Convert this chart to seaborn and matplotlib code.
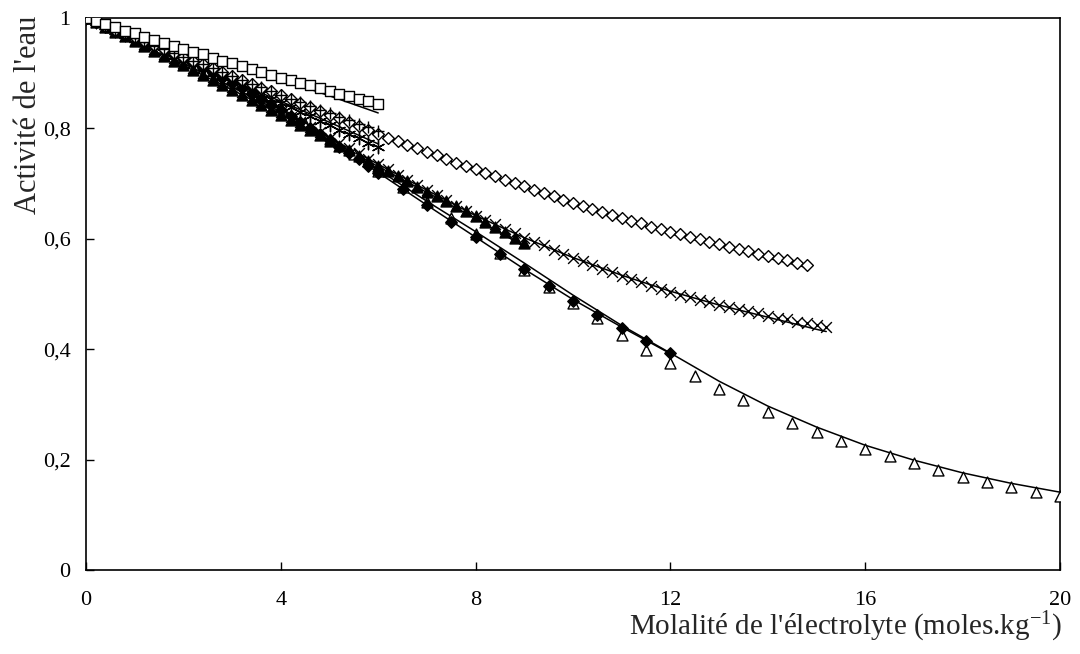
import numpy as np
import pandas as pd
import matplotlib
matplotlib.use("Agg")
import matplotlib.pyplot as plt
import seaborn as sns

# ---------------- data (molality in mol/kg, water activity) ----------------
m_fine6 = np.round(np.arange(0, 6.01, 0.2), 1)

sq_a = [1.000, 0.994, 0.989, 0.983, 0.977, 0.972, 0.966, 0.961, 0.955, 0.950,
        0.944, 0.939, 0.934, 0.928, 0.923, 0.918, 0.913, 0.908, 0.903, 0.897,
        0.892, 0.887, 0.882, 0.878, 0.873, 0.868, 0.863, 0.858, 0.853, 0.849, 0.844]
sq_fit_m = [0, 1, 2, 3, 4, 5, 6]
sq_fit_a = [1.000, 0.972, 0.945, 0.917, 0.889, 0.859, 0.828]

plus_a = [1.000, 0.993, 0.986, 0.979, 0.972, 0.964, 0.957, 0.950, 0.943, 0.936,
          0.930, 0.923, 0.916, 0.909, 0.902, 0.895, 0.888, 0.881, 0.875, 0.868,
          0.861, 0.854, 0.848, 0.841, 0.834, 0.828, 0.821, 0.815, 0.808, 0.802, 0.795]
plus_fit_m = [0, 1, 2, 3, 4, 5, 6]
plus_fit_a = [1.000, 0.963, 0.927, 0.892, 0.856, 0.821, 0.787]

star_a = [1.000, 0.993, 0.985, 0.977, 0.970, 0.962, 0.955, 0.947, 0.939, 0.932,
          0.924, 0.916, 0.908, 0.901, 0.893, 0.885, 0.877, 0.869, 0.862, 0.854,
          0.846, 0.838, 0.830, 0.822, 0.814, 0.806, 0.798, 0.790, 0.782, 0.774, 0.766]
star_fit_m = [0, 1, 2, 3, 4, 5, 6]
star_fit_a = [1.000, 0.963, 0.925, 0.887, 0.849, 0.811, 0.772]

m_dia = np.round(np.arange(0, 14.81, 0.2), 1)
dia_a = [1.000, 0.993, 0.986, 0.979, 0.972, 0.965, 0.958, 0.951, 0.944, 0.937,
         0.930, 0.923, 0.916, 0.909, 0.902, 0.895, 0.888, 0.881, 0.874, 0.867,
         0.860, 0.853, 0.846, 0.839, 0.832, 0.825, 0.818, 0.811, 0.804, 0.797,
         0.790, 0.783, 0.777, 0.770, 0.764, 0.757, 0.751, 0.745, 0.738, 0.732,
         0.726, 0.720, 0.714, 0.707, 0.701, 0.695, 0.689, 0.683, 0.677, 0.671,
         0.665, 0.660, 0.654, 0.649, 0.643, 0.638, 0.633, 0.628, 0.622, 0.617,
         0.612, 0.608, 0.603, 0.599, 0.594, 0.590, 0.586, 0.582, 0.577, 0.573,
         0.569, 0.565, 0.561, 0.557, 0.553]
dia_fit_m = [0, 2, 4, 6, 8, 10, 12, 14, 14.8]
dia_fit_a = [1.000, 0.930, 0.860, 0.789, 0.724, 0.663, 0.609, 0.565, 0.548]

m_x = np.round(np.arange(0, 15.21, 0.2), 1)
x_a = [1.000, 0.992, 0.984, 0.976, 0.968, 0.960, 0.952, 0.944, 0.935, 0.927,
       0.918, 0.910, 0.901, 0.893, 0.884, 0.875, 0.866, 0.857, 0.848, 0.839,
       0.830, 0.821, 0.812, 0.802, 0.793, 0.783, 0.774, 0.764, 0.755, 0.745,
       0.735, 0.726, 0.716, 0.707, 0.697, 0.688, 0.679, 0.670, 0.660, 0.651,
       0.642, 0.634, 0.626, 0.618, 0.610, 0.602, 0.595, 0.588, 0.580, 0.573,
       0.566, 0.559, 0.553, 0.546, 0.540, 0.533, 0.527, 0.521, 0.515, 0.509,
       0.503, 0.498, 0.494, 0.489, 0.485, 0.480, 0.476, 0.472, 0.469, 0.465,
       0.461, 0.457, 0.454, 0.450, 0.447, 0.443, 0.440]
x_fit_m = [0, 1, 2, 3, 4, 5, 6, 7, 8, 9, 10, 11, 12, 13, 14, 15, 15.2]
x_fit_a = [1.000, 0.960, 0.918, 0.875, 0.830, 0.783, 0.735, 0.688, 0.642,
           0.602, 0.566, 0.534, 0.505, 0.480, 0.458, 0.436, 0.432]

m_ftri = np.round(np.arange(0, 9.01, 0.2), 1)
ftri_a = [1.000, 0.992, 0.984, 0.975, 0.967, 0.958, 0.950, 0.941, 0.932, 0.923,
          0.914, 0.906, 0.897, 0.888, 0.879, 0.870, 0.861, 0.852, 0.843, 0.834,
          0.825, 0.816, 0.806, 0.797, 0.788, 0.778, 0.769, 0.760, 0.750, 0.741,
          0.732, 0.722, 0.713, 0.704, 0.694, 0.685, 0.677, 0.668, 0.659, 0.650,
          0.641, 0.631, 0.622, 0.612, 0.602, 0.592]
ftri_fit_m = [0, 1, 2, 3, 4, 5, 6, 7, 8, 9]
ftri_fit_a = [1.000, 0.958, 0.914, 0.870, 0.825, 0.778, 0.731, 0.684, 0.637, 0.586]

m_fdia = list(np.round(np.arange(0, 6.01, 0.2), 1)) + [6.5, 7.0, 7.5, 8.0, 8.5, 9.0,
                                                          9.5, 10.0, 10.5, 11.0, 11.5, 12.0]
fdia_a = [1.000, 0.994, 0.987, 0.980, 0.973, 0.966, 0.958, 0.951, 0.943, 0.935,
          0.927, 0.918, 0.910, 0.901, 0.892, 0.882, 0.873, 0.863, 0.853, 0.843,
          0.833, 0.823, 0.812, 0.801, 0.790, 0.779, 0.767, 0.755, 0.744, 0.731,
          0.719, 0.690, 0.661, 0.631, 0.603, 0.573, 0.545, 0.515, 0.487, 0.462,
          0.438, 0.415, 0.393]
fdia_fit_m = [0, 1, 2, 3, 4, 5, 6, 7, 8, 9, 10, 11, 12]
fdia_fit_a = [1.000, 0.966, 0.927, 0.883, 0.834, 0.779, 0.720, 0.661, 0.603,
              0.545, 0.490, 0.440, 0.392]

m_otri = [0, 0.5, 1, 1.5, 2, 2.5, 3, 3.5, 4, 4.5, 5, 5.5, 6, 6.5, 7, 7.5, 8, 8.5,
          9, 9.5, 10, 10.5, 11, 11.5, 12, 12.5, 13, 13.5, 14, 14.5, 15, 15.5, 16,
          16.5, 17, 17.5, 18, 18.5, 19, 19.5, 20]
otri_a = [1.000, 0.984, 0.967, 0.948, 0.928, 0.906, 0.884, 0.860, 0.835, 0.808,
          0.781, 0.753, 0.723, 0.694, 0.666, 0.638, 0.608, 0.575, 0.544, 0.513,
          0.483, 0.456, 0.426, 0.399, 0.375, 0.352, 0.328, 0.308, 0.286, 0.266,
          0.250, 0.234, 0.219, 0.206, 0.193, 0.181, 0.169, 0.159, 0.150, 0.141, 0.134]
otri_fit_m = [0, 1, 2, 3, 4, 5, 6, 7, 8, 9, 10, 11, 12, 13, 14, 15, 16, 17, 18, 19, 20]
otri_fit_a = [1.000, 0.967, 0.929, 0.886, 0.837, 0.783, 0.725, 0.668, 0.613,
              0.556, 0.498, 0.443, 0.393, 0.342, 0.297, 0.259, 0.226, 0.199,
              0.176, 0.157, 0.141]

x_ticks = [0, 4, 8, 12, 16, 20]
x_tick_labels = ["0", "4", "8", "12", "16", "20"]
y_ticks = [0, 0.2, 0.4, 0.6, 0.8, 1.0]
y_tick_labels = ["0", "0,2", "0,4", "0,6", "0,8", "1"]

x_label = "Molalité de l'électrolyte (moles.kg$^{-1}$)"
y_label = "Activité de l'eau"

# ---------------- style ----------------
sns.set_theme(style="white")
plt.rcParams["font.family"] = ["Liberation Serif", "DejaVu Serif"]
plt.rcParams["mathtext.fontset"] = "custom"
plt.rcParams["mathtext.rm"] = "Liberation Serif"
plt.rcParams["mathtext.it"] = "Liberation Serif:italic"

fig = plt.figure(figsize=(10.8, 6.54), dpi=100)
ax = fig.add_axes([86 / 1080, 1 - 570 / 654, (1060 - 86) / 1080, (570 - 18) / 654])

LW = 1.1

def fit(mx, ay):
    sns.lineplot(x=mx, y=ay, ax=ax, color="black", linewidth=LW,
                 estimator=None, sort=False, zorder=2)

def pts(mx, ay, marker, s, filled, lw=1.0, z=3):
    if marker in ("x", "+", (6, 2, 0)):
        sns.scatterplot(x=mx, y=ay, ax=ax, marker=marker, s=s, color="black",
                        linewidth=lw, zorder=z)
    else:
        sns.scatterplot(x=mx, y=ay, ax=ax, marker=marker, s=s,
                        facecolor="black" if filled else "white",
                        edgecolor="black", linewidth=lw, zorder=z)

fit(otri_fit_m, otri_fit_a)
pts(m_otri, otri_a, "^", 62, False)
fit(fdia_fit_m, fdia_fit_a)
pts(m_fdia, fdia_a, "D", 34, True, z=4)
fit(ftri_fit_m, ftri_fit_a)
pts(m_ftri, ftri_a, "^", 62, True, z=4)
fit(x_fit_m, x_fit_a)
pts(m_x, x_a, "x", 60, False, lw=1.0, z=5)
fit(star_fit_m, star_fit_a)
pts(m_fine6, star_a, (6, 2, 0), 80, False, lw=1.0, z=5)
fit(dia_fit_m, dia_fit_a)
pts(m_dia, dia_a, "D", 36, False, z=5)
fit(plus_fit_m, plus_fit_a)
pts(m_fine6, plus_a, "+", 70, False, lw=1.0, z=6)
fit(sq_fit_m, sq_fit_a)
pts(m_fine6, sq_a, "s", 58, False, z=6)

ax.set_xlim(0, 20)
ax.set_ylim(0, 1)
ax.set_xticks(x_ticks, x_tick_labels)
ax.set_yticks(y_ticks, y_tick_labels)
ax.tick_params(axis="both", direction="in", length=6, width=1.0, color="black",
               labelsize=16, labelcolor="black")
ax.tick_params(axis="x", pad=15, bottom=True, top=False)
ax.tick_params(axis="y", pad=11, left=True, right=False)
for lab in ax.get_xticklabels() + ax.get_yticklabels():
    lab.set_fontsize(16)
for sp in ax.spines.values():
    sp.set_visible(True)
    sp.set_color("black")
    sp.set_linewidth(1.2)
ax.set_xlabel("")
ax.set_ylabel("")
ax.grid(False)

fig.text(1062 / 1080, 1 - 627 / 654, x_label, ha="right", va="center", fontsize=21)
fig.text(29 / 1080, 1 - 16 / 654, y_label, ha="center", va="top", rotation=90,
         fontsize=22)

fig.savefig("out.png", dpi=100)
